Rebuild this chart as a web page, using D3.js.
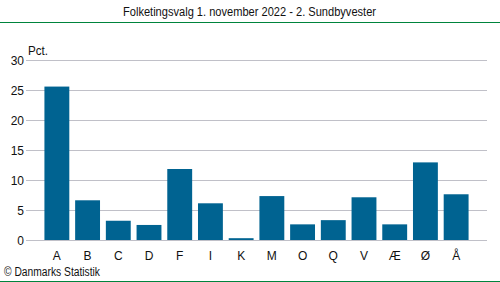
<!DOCTYPE html>
<html>
<head>
<meta charset="utf-8">
<script src="https://cdn.jsdelivr.net/npm/d3@7"></script>
<style>
  body { margin: 0; background: #fff; }
  svg { display: block; font-family: "Liberation Sans", Arial, sans-serif; }
</style>
</head>
<body>
<div id="chart"></div>
<script>
// chart data
const parties = ["A", "B", "C", "D", "F", "I", "K", "M", "O", "Q", "V", "Æ", "Ø", "Å"];
const pct = [25.5, 6.6, 3.2, 2.5, 11.8, 6.1, 0.3, 7.3, 2.6, 3.3, 7.1, 2.6, 12.9, 7.6];
const yTicks = [0, 5, 10, 15, 20, 25, 30];

const title = "Folketingsvalg 1. november 2022 - 2. Sundbyvester";

let width = 500, height = 282;
let plot = {left: 26, right: 487, top: 59.5, bottom: 240};
let fontSize = 12;

let svg = d3.select("#chart")
    .append("svg")
    .attr("width", width)
    .attr("height", height);

// title and green rules (the original font is narrower, so squeeze it a bit)
svg.append("text")
    .attr("x", 123)
    .attr("y", 16)
    .attr("font-size", fontSize)
    .attr("fill", "#111")
    .attr("textLength", 253)
    .attr("lengthAdjust", "spacingAndGlyphs")
    .text(title);

svg.append("line")
    .attr("x1", 0).attr("x2", width)
    .attr("y1", 22.5).attr("y2", 22.5)
    .attr("stroke", "#00843d")
    .attr("stroke-width", 1);

svg.append("line")
    .attr("x1", 0).attr("x2", width)
    .attr("y1", 281.5).attr("y2", 281.5)
    .attr("stroke", "#00843d")
    .attr("stroke-width", 1);

let x = d3.scaleBand()
    .domain(parties)
    .range([plot.left, plot.right])
    .paddingInner(0.19)
    .paddingOuter(0.6);

let y = d3.scaleLinear()
    .domain([0, 30])
    .range([plot.bottom, plot.top]);

// gridlines
svg.append("g")
    .selectAll("line")
    .data(yTicks)
    .enter()
    .append("line")
    .attr("x1", plot.left)
    .attr("x2", plot.right)
    .attr("y1", d => Math.round(y(d)) + 0.5)
    .attr("y2", d => Math.round(y(d)) + 0.5)
    .attr("stroke", "#c0c0c8")
    .attr("stroke-width", 1);

// y labels
svg.append("g")
    .selectAll("text")
    .data(yTicks)
    .enter()
    .append("text")
    .attr("x", 24)
    .attr("y", d => Math.round(y(d)) + 4.5)
    .attr("text-anchor", "end")
    .attr("font-size", fontSize)
    .attr("fill", "#111")
    .text(d => d);

svg.append("text")
    .attr("x", 28)
    .attr("y", 55)
    .attr("font-size", fontSize)
    .attr("fill", "#111")
    .attr("textLength", 20)
    .attr("lengthAdjust", "spacingAndGlyphs")
    .text("Pct.");

// bars
svg.append("g")
    .selectAll("rect")
    .data(pct)
    .enter()
    .append("rect")
    .attr("x", (d, i) => x(parties[i]))
    .attr("y", d => y(d))
    .attr("width", x.bandwidth())
    .attr("height", d => y(0) - y(d))
    .attr("fill", "#006391");

// x labels
svg.append("g")
    .selectAll("text")
    .data(parties)
    .enter()
    .append("text")
    .attr("x", d => x(d) + x.bandwidth() / 2)
    .attr("y", 260)
    .attr("text-anchor", "middle")
    .attr("font-size", fontSize)
    .attr("fill", "#111")
    .text(d => d);

svg.append("text")
    .attr("x", 4)
    .attr("y", 276)
    .attr("font-size", fontSize)
    .attr("fill", "#111")
    .attr("textLength", 96)
    .attr("lengthAdjust", "spacingAndGlyphs")
    .text("© Danmarks Statistik");
</script>
</body>
</html>
